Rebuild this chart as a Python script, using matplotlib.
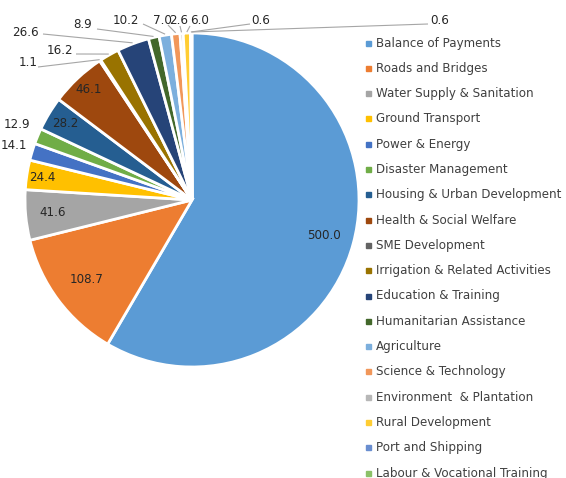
import numpy as np
import matplotlib
matplotlib.use("Agg")
import matplotlib.pyplot as plt
from matplotlib.patches import Rectangle

categories = ["Balance of Payments", "Roads and Bridges", "Water Supply & Sanitation",
              "Ground Transport", "Power & Energy", "Disaster Management",
              "Housing & Urban Development", "Health & Social Welfare", "SME Development",
              "Irrigation & Related Activities", "Education & Training",
              "Humanitarian Assistance", "Agriculture", "Science & Technology",
              "Environment  & Plantation", "Rural Development", "Port and Shipping",
              "Labour & Vocational Training"]
values = [500.0, 108.7, 41.6, 24.4, 14.1, 12.9, 28.2, 46.1, 1.1, 16.2, 26.6,
          8.9, 10.2, 7.0, 2.6, 6.0, 0.6, 0.6]
colors = ["#5B9BD5", "#ED7D31", "#A5A5A5", "#FFC000", "#4472C4", "#70AD47",
          "#255E91", "#9E480E", "#636363", "#997300", "#264478", "#43682B",
          "#7CAFDD", "#F1975A", "#B7B7B7", "#FFCD33", "#698ED0", "#8CC168"]

W, H = 566, 478
fig = plt.figure(figsize=(W / 100, H / 100), dpi=100)
ax = fig.add_axes([0, 0, 1, 1])

CX, CY, R = 192, 200, 167  # image pixel coords
def py(y):
    return H - y

wedges, _ = ax.pie(values, colors=colors, startangle=90, counterclock=False,
                   radius=R, center=(CX, py(CY)),
                   wedgeprops=dict(edgecolor="white", linewidth=2.0))
ax.set_xlim(0, W)
ax.set_ylim(0, H)
ax.set_aspect("equal")
ax.axis("off")

total = sum(values)
cum = np.cumsum([0] + values)
mid = [(cum[i] + cum[i + 1]) / 2 / total * 360 for i in range(len(values))]  # clockwise from top

def pt(angle, r):
    a = np.radians(angle)
    return CX + r * np.sin(a), CY - r * np.cos(a)

fs = 8.6
tcol = "#262626"
# inside labels: index -> radial factor
inside = {0: 0.82, 1: 0.79, 2: 0.84, 3: 0.905, 6: 0.885, 7: 0.905}
for i, f in inside.items():
    x, y = pt(mid[i], R * f)
    ax.text(x, py(y), f"{values[i]:.1f}", ha="center", va="center", fontsize=fs, color=tcol)

# outside labels: index -> (text center x, text center y, leader end x, leader end y)
outside = {
    4: (14, 145, None, None),
    5: (17, 124, None, None),
    8: (28, 62, 38, 67),
    9: (60, 50, 76, 54),
    10: (25, 32, 43, 34),
    11: (83, 24, 97, 29),
    12: (126, 20, 143, 24),
    13: (162, 20, 168, 25),
    14: (179, 20, 180, 26),
    15: (200, 20, 190, 26),
    16: (261, 20, 250, 24),
    17: (440, 20, 428, 24),
}
for i, (tx, ty, lx, ly) in outside.items():
    ax.text(tx, py(ty), f"{values[i]:.1f}", ha="center", va="center", fontsize=fs, color=tcol)
    if lx is not None:
        ex, ey = pt(mid[i], R + 1)
        ax.plot([ex, lx], [py(ey), py(ly)], color="#A6A6A6", lw=0.8, solid_capstyle="butt")

# legend
for i, name in enumerate(categories):
    ly = 43 + i * 25.3
    ax.add_patch(Rectangle((366, py(ly) - 2.5), 5, 5, color=colors[i], clip_on=False))
    ax.text(376, py(ly), name, ha="left", va="center", fontsize=8.6, color="#404040")

fig.savefig("out.png", dpi=100)
